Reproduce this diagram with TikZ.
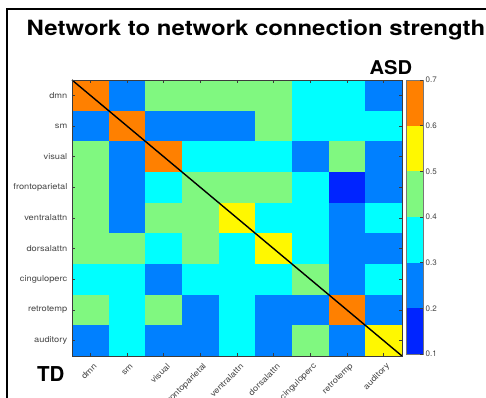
\documentclass[tikz,border=0pt]{standalone}
\usepackage{fontspec}
\setmainfont{TeX Gyre Heros}
\definecolor{lvD}{RGB}{0,36,255}
\definecolor{lvB}{RGB}{0,128,255}
\definecolor{lvC}{RGB}{0,255,255}
\definecolor{lvG}{RGB}{128,248,128}
\definecolor{lvY}{RGB}{255,248,0}
\definecolor{lvO}{RGB}{255,128,0}
\definecolor{axisgray}{RGB}{60,60,60}
\definecolor{labgray}{RGB}{70,70,70}
\newcommand{\widelab}[1]{\scalebox{1.13}[1]{#1}}
\tikzset{
  ylab/.style={anchor=east, inner sep=0pt, text=labgray, font=\fontsize{8.2}{9}\selectfont},
  xlab/.style={anchor=east, inner sep=0pt, rotate=45, text=labgray, font=\fontsize{8.2}{9}\selectfont},
  cblab/.style={anchor=west, inner sep=0pt, text=labgray, font=\fontsize{8}{9}\selectfont},
  tickmark/.style={draw=axisgray, line width=0.6pt},
  bigtext/.style={anchor=base west, inner sep=0pt, font=\bfseries}
}
\begin{document}
\begin{tikzpicture}[x=1pt,y=-1pt]
\useasboundingbox (0,0) rectangle (486,397);
\fill[white] (0,0) rectangle (486,397);
% outer frame (runs off the page to the right and bottom)
\draw[line width=2pt] (487,9) -- (7,9) -- (7,398);

% title
\node[bigtext, font=\bfseries\fontsize{21}{24}\selectfont] (title) at (26.5,35)
  {\scalebox{1.14}[1]{Network to network connection strength}};

% matrix geometry
\def\mL{72}\def\mT{80}\def\cw{36.667}\def\ch{30.667}
\foreach \row [count=\r] in {
  {O,B,G,G,G,G,C,C,B},
  {B,O,B,B,B,G,C,C,C},
  {G,B,O,C,C,C,B,G,B},
  {G,B,C,G,G,G,C,D,B},
  {G,B,G,G,Y,C,C,B,C},
  {G,G,C,G,C,Y,C,B,B},
  {C,C,B,C,C,C,G,B,C},
  {G,C,G,B,C,B,B,O,B},
  {B,C,B,B,C,B,G,B,Y}}{
  \foreach \v [count=\k] in \row {
    \fill[lv\v] ({\mL+(\k-1)*\cw},{\mT+(\r-1)*\ch}) rectangle ++(\cw,\ch);
  }
}
\coordinate (mtl) at (72,80);
\coordinate (mbr) at (402,356);
\draw[line width=1.4pt] (mtl) -- (mbr);
\draw[axisgray, line width=0.8pt] (mtl) rectangle (mbr);

% ticks and labels
\foreach \lab [count=\i] in {dmn,sm,visual,frontoparietal,ventralattn,dorsalattn,cinguloperc,retrotemp,auditory}{
  \pgfmathsetmacro{\xc}{\mL+(\i-0.5)*\cw}
  \pgfmathsetmacro{\yc}{\mT+(\i-0.5)*\ch}
  \draw[tickmark] (\xc,80) -- (\xc,83.3);
  \draw[tickmark] (\xc,356) -- (\xc,352.7);
  \draw[tickmark] (72,\yc) -- (75.3,\yc);
  \draw[tickmark] (402,\yc) -- (398.7,\yc);
  \node[ylab] (yl\i) at (67.5,\yc) {\widelab{\lab}};
  \node[xlab] (xl\i) at ({\xc+5},365) {\widelab{\lab}};
}

% colour bar
\def\cbL{406}\def\cbR{423}\def\cbT{80}\def\cbH{45.667}
\foreach \v [count=\k] in {O,Y,G,C,B,D}{
  \fill[lv\v] (\cbL,{\cbT+(\k-1)*\cbH}) rectangle (\cbR,{\cbT+\k*\cbH});
}
\draw[axisgray!70, line width=0.8pt] (\cbL,\cbT) rectangle (\cbR,354);
\foreach \t [count=\k] in {0.7,0.6,0.5,0.4,0.3,0.2,0.1}{
  \pgfmathsetmacro{\yt}{\cbT+(\k-1)*\cbH}
  \draw[tickmark] (\cbR,\yt) -- (420,\yt);
  \node[cblab] (cb\k) at (425.5,\yt) {\t};
}

% group labels
\node[bigtext, font=\bfseries\fontsize{19}{22}\selectfont] (asd) at (369.5,74) {\scalebox{1.06}[1]{ASD}};
\node[bigtext, font=\bfseries\fontsize{20.5}{23}\selectfont] (td) at (37,381.7) {TD};
\end{tikzpicture}
\end{document}
